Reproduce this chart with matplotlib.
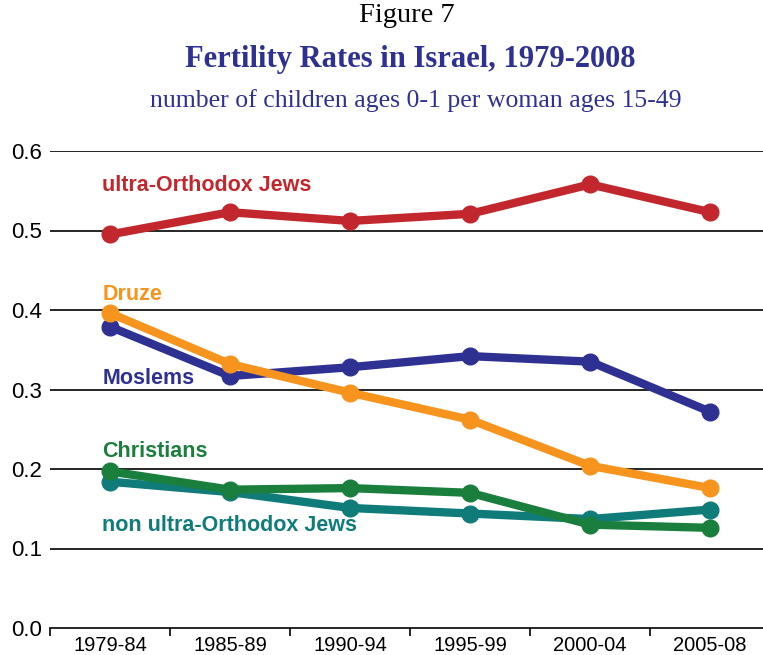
import matplotlib.pyplot as plt
import matplotlib as mpl
from matplotlib.ticker import FixedLocator


# ==========================
# Data
# ==========================

periods = ["1979-84", "1985-89", "1990-94", "1995-99", "2000-04", "2005-08"]

ultra_orthodox = [0.495, 0.523, 0.512, 0.521, 0.558, 0.523]
druze = [0.396, 0.332, 0.296, 0.262, 0.204, 0.176]
moslems = [0.379, 0.317, 0.328, 0.342, 0.335, 0.272]
christians = [0.197, 0.174, 0.176, 0.170, 0.130, 0.126]
non_ultra = [0.184, 0.171, 0.151, 0.144, 0.137, 0.149]

y_ticks = [0.0, 0.1, 0.2, 0.3, 0.4, 0.5, 0.6]


# ==========================
# Style
# ==========================

mpl.rcParams["font.family"] = "Liberation Sans"

RED = "#C1272D"
ORANGE = "#F7941E"
NAVY = "#2E3192"
GREEN = "#1A7F3C"
TEAL = "#0F7C7A"


fig = plt.figure(figsize=(7.63, 6.55), dpi=100)

ax = fig.add_axes([50 / 763, 27 / 655, 713 / 763, 477 / 655])

x = list(range(len(periods)))

series = [
    (ultra_orthodox, RED, "ultra-Orthodox Jews", 0.557),
    (druze, ORANGE, "Druze", 0.42),
    (moslems, NAVY, "Moslems", 0.314),
    (christians, GREEN, "Christians", 0.222),
    (non_ultra, TEAL, "non ultra-Orthodox Jews", 0.129),
]

# draw lower series first so the upper ones sit on top
for values, color, label, ly in reversed(series):
    ax.plot(
        x,
        values,
        color=color,
        linewidth=6,
        marker="o",
        markersize=12,
        solid_capstyle="round",
        clip_on=False,
        zorder=3,
    )

for values, color, label, ly in series:
    ax.text(
        -0.065,
        ly,
        label,
        color=color,
        fontsize=15.5,
        fontweight="bold",
        ha="left",
        va="center",
    )


# ==========================
# Axes
# ==========================

ax.set_xlim(-0.5, 5.44)
ax.set_ylim(0, 0.6)

ax.set_yticks(y_ticks)
ax.set_yticklabels([f"{v:.1f}" for v in y_ticks], fontsize=16)
ax.tick_params(axis="y", length=0, pad=6)

ax.set_xticks(x)
ax.set_xticklabels(periods, fontsize=14.5)
ax.tick_params(axis="x", which="major", length=0, pad=6)

ax.xaxis.set_minor_locator(FixedLocator([i - 0.5 for i in range(len(periods))]))
ax.tick_params(axis="x", which="minor", length=6, width=1.2, direction="out")

for v in y_ticks[1:]:
    ax.axhline(v, color="black", linewidth=1.2, zorder=1)

for side in ["top", "right", "left"]:
    ax.spines[side].set_visible(False)

ax.spines["bottom"].set_linewidth(1.2)


# ==========================
# Titles
# ==========================

fig.text(
    407 / 763,
    1 - 16 / 655,
    "Figure 7",
    family="Liberation Serif",
    fontsize=20.5,
    ha="center",
    va="center",
)

fig.text(
    410 / 763,
    1 - 60 / 655,
    "Fertility Rates in Israel, 1979-2008",
    family="Liberation Serif",
    fontsize=22,
    fontweight="bold",
    color=NAVY,
    ha="center",
    va="center",
)

fig.text(
    416 / 763,
    1 - 101 / 655,
    "number of children ages 0-1 per woman ages 15-49",
    family="Liberation Serif",
    fontsize=18.5,
    color=NAVY,
    ha="center",
    va="center",
)


fig.savefig("out.png", dpi=100)
